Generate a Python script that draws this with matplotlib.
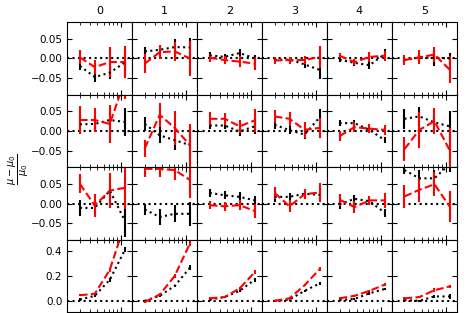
import numpy as np
import matplotlib
matplotlib.use("Agg")
import matplotlib.pyplot as plt
from matplotlib.ticker import LogLocator, NullFormatter

# abscisses (echelle log)
x = [3.0, 4.64, 7.2, 11.2]
colonnes = ["0", "1", "2", "3", "4", "5"]

# valeurs lues : une liste par ligne, 6 panneaux x 4 points
rouge = [
    [[0.003, -0.022, -0.009, -0.009], [-0.013, 0.016, 0.018, 0.0], [0.002, -0.004, -0.008, -0.013],
     [-0.005, -0.004, -0.004, 0.004], [0.007, -0.009, 0.004, 0.007], [-0.004, 0.003, 0.010, -0.028]],
    [[0.028, 0.028, 0.018, 0.13], [-0.044, 0.041, 0.008, -0.036], [0.031, 0.031, 0.012, 0.027],
     [0.037, 0.031, 0.003, 0.008], [-0.013, 0.010, 0.006, 0.003], [-0.046, 0.003, 0.025, -0.048]],
    [[0.050, -0.005, 0.033, 0.040], [0.088, 0.088, 0.085, 0.060], [-0.004, -0.007, -0.004, -0.019],
     [0.027, -0.007, 0.024, 0.028], [0.010, -0.009, 0.008, 0.008], [0.018, 0.035, 0.049, -0.007]],
    [[0.045, 0.056, 0.25, 0.62], [-0.01, 0.05, 0.20, 0.46], [0.02, 0.03, 0.10, 0.23],
     [0.0, 0.02, 0.125, 0.255], [0.02, 0.04, 0.08, 0.13], [0.02, 0.03, 0.085, 0.115]],
]
rouge_err = [
    [[0.018, 0.018, 0.037, 0.040], [0.025, 0.018, 0.025, 0.045], [0.010, 0.010, 0.014, 0.016],
     [0.008, 0.009, 0.010, 0.027], [0.007, 0.008, 0.012, 0.013], [0.013, 0.018, 0.020, 0.035]],
    [[0.036, 0.030, 0.048, 0.05], [0.022, 0.030, 0.043, 0.055], [0.018, 0.016, 0.016, 0.030],
     [0.017, 0.017, 0.020, 0.025], [0.012, 0.012, 0.012, 0.013], [0.030, 0.045, 0.033, 0.055]],
    [[0.024, 0.030, 0.045, 0.055], [0.020, 0.020, 0.025, 0.045], [0.010, 0.012, 0.012, 0.018],
     [0.015, 0.015, 0.013, 0.025], [0.015, 0.015, 0.012, 0.020], [0.030, 0.030, 0.030, 0.040]],
    [[0.01, 0.01, 0.015, 0.02], [0.01, 0.01, 0.015, 0.02], [0.01, 0.01, 0.01, 0.015],
     [0.01, 0.01, 0.01, 0.015], [0.01, 0.01, 0.01, 0.01], [0.01, 0.01, 0.015, 0.015]],
]
noir = [
    [[-0.019, -0.047, -0.036, -0.010], [0.018, 0.022, 0.029, 0.028], [0.008, 0.004, 0.014, 0.0],
     [-0.003, -0.003, -0.015, -0.029], [-0.003, -0.011, -0.017, 0.011], [-0.004, 0.002, 0.002, 0.0]],
    [[0.017, 0.018, 0.028, 0.023], [0.018, -0.011, -0.023, -0.036], [0.014, 0.014, -0.001, 0.012],
     [0.016, 0.002, -0.009, 0.035], [0.020, 0.020, 0.003, -0.023], [0.031, 0.037, 0.022, 0.012]],
    [[-0.011, -0.011, 0.033, -0.044], [-0.015, -0.034, -0.026, -0.026], [0.027, 0.021, 0.017, 0.008],
     [0.017, 0.017, 0.025, 0.022], [-0.002, 0.012, 0.006, -0.023], [0.085, 0.064, 0.064, 0.10]],
    [[0.01, 0.04, 0.17, 0.41], [0.0, 0.04, 0.12, 0.265], [0.01, 0.03, 0.08, 0.17],
     [0.0, 0.01, 0.08, 0.14], [0.005, 0.015, 0.06, 0.095], [0.005, 0.0, 0.035, 0.035]],
]
noir_err = [
    [[0.010, 0.013, 0.017, 0.035], [0.010, 0.010, 0.020, 0.025], [0.008, 0.008, 0.011, 0.010],
     [0.006, 0.006, 0.010, 0.022], [0.007, 0.007, 0.010, 0.012], [0.008, 0.010, 0.020, 0.015]],
    [[0.025, 0.015, 0.020, 0.035], [0.017, 0.020, 0.025, 0.030], [0.010, 0.010, 0.012, 0.020],
     [0.010, 0.010, 0.010, 0.022], [0.008, 0.008, 0.008, 0.008], [0.025, 0.025, 0.020, 0.040]],
    [[0.020, 0.015, 0.020, 0.040], [0.015, 0.020, 0.022, 0.030], [0.010, 0.010, 0.012, 0.012],
     [0.012, 0.010, 0.010, 0.012], [0.012, 0.010, 0.010, 0.010], [0.010, 0.020, 0.020, 0.02]],
    [[0.01, 0.01, 0.015, 0.02], [0.01, 0.01, 0.01, 0.02], [0.01, 0.01, 0.01, 0.015],
     [0.01, 0.01, 0.01, 0.015], [0.01, 0.01, 0.01, 0.01], [0.01, 0.01, 0.015, 0.02]],
]

plt.rcParams['font.size'] = 7.5

fig, axes = plt.subplots(4, 6, figsize=(4.73, 3.13), dpi=100, sharex=True)
fig.subplots_adjust(left=0.142, right=0.9655, top=0.929, bottom=0.002, hspace=0, wspace=0)

for i in range(4):
    for j in range(6):
        ax = axes[i, j]
        ax.axhline(0, color='k', ls=':', lw=1.5)
        ax.errorbar(x, noir[i][j], yerr=noir_err[i][j], color='k', ls=':', lw=1.5, elinewidth=1.5)
        ax.errorbar(x, rouge[i][j], yerr=rouge_err[i][j], color='r', ls='--', lw=1.5, elinewidth=1.5)
        ax.set_xscale('log')
        ax.set_xlim(2.07, 13.8)
        ax.xaxis.set_major_locator(LogLocator(base=10))
        ax.xaxis.set_minor_locator(LogLocator(base=10, subs=np.arange(2, 10)))
        ax.xaxis.set_major_formatter(NullFormatter())
        ax.xaxis.set_minor_formatter(NullFormatter())
        if i < 3:
            ax.set_ylim(-0.092, 0.092)
            ax.set_yticks([-0.05, 0, 0.05])
        else:
            ax.set_ylim(-0.093, 0.49)
            ax.set_yticks([0, 0.2, 0.4])
        ax.tick_params(which='both', direction='in', top=True, right=True)
        if j > 0:
            ax.set_yticklabels([])
        if i == 0:
            ax.set_title(colonnes[j], fontsize=8)

fig.text(0.04, 0.46, r'$\frac{\mu - \mu_0}{\mu_0}$', rotation=90, ha='center', va='center', fontsize=10)

plt.savefig('out.png', dpi=100)
